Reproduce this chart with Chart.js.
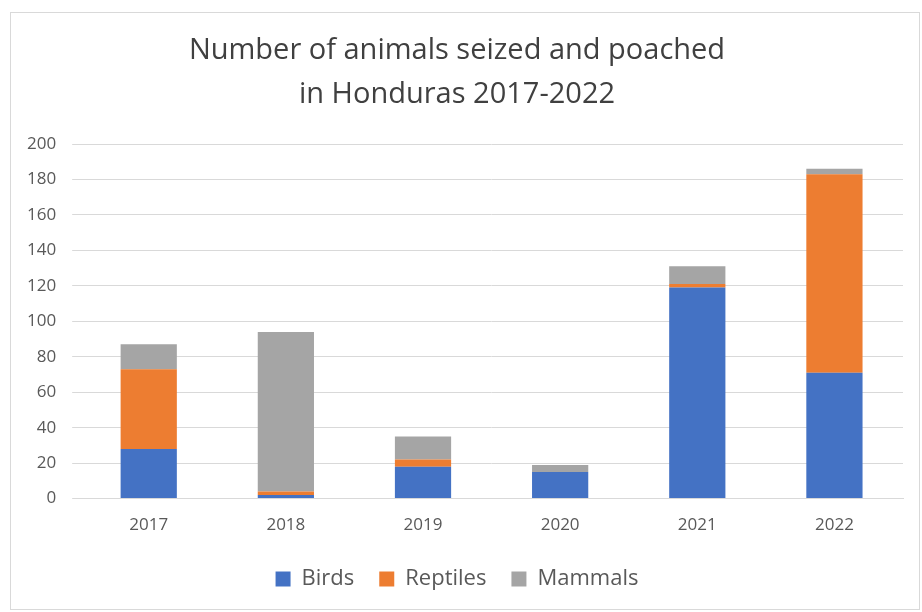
<!DOCTYPE html>
<html>
<head>
<meta charset="utf-8">
<script src="https://cdn.jsdelivr.net/npm/chart.js@4"></script>
<style>
    html, body { margin: 0; padding: 0; background: #fff; }
    #box { position: absolute; left: 10px; top: 12px; width: 910px; height: 598px; border: 1px solid #d9d9d9; box-sizing: border-box; }
</style>
</head>
<body>
<div id="box"><canvas id="chart"></canvas></div>
<script>
// dati
const anni = ["2017", "2018", "2019", "2020", "2021", "2022"];
const uccelli = [28, 2, 18, 15, 119, 71];
const rettili = [45, 2, 4, 0, 2, 112];
const mammiferi = [14, 90, 13, 4, 10, 3];

document.addEventListener("DOMContentLoaded", function () {
    let canvas = document.getElementById("chart");
    canvas.width = 908;
    canvas.height = 596;
    let ctx = canvas.getContext("2d");

    Chart.defaults.font.family = "'Open Sans', 'Noto Sans', sans-serif";
    Chart.defaults.color = "#595959";

    new Chart(ctx, {
        type: "bar",
        data: {
            labels: anni,
            datasets: [
                { label: "Birds", data: uccelli, backgroundColor: "#4472c4" },
                { label: "Reptiles", data: rettili, backgroundColor: "#ed7d31" },
                { label: "Mammals", data: mammiferi, backgroundColor: "#a5a5a5" }
            ]
        },
        options: {
            responsive: false,
            animation: false,
            layout: { padding: { left: 0, right: 16, top: 5, bottom: 9 } },
            datasets: { bar: { barPercentage: 0.41, categoryPercentage: 1 } },
            plugins: {
                title: {
                    display: true,
                    text: ["Number of animals seized and poached", "in Honduras 2017-2022"],
                    font: { size: 29, weight: "normal", lineHeight: 1.5 },
                    color: "#404040",
                    padding: { top: 11, bottom: 28 }
                },
                legend: {
                    position: "bottom",
                    labels: { boxWidth: 15, boxHeight: 15, font: { size: 22 }, padding: 25 }
                },
                tooltip: { enabled: false }
            },
            scales: {
                x: {
                    stacked: true,
                    grid: { display: false },
                    border: { color: "#d9d9d9" },
                    ticks: { font: { size: 17 }, padding: 8 }
                },
                y: {
                    stacked: true,
                    min: 0,
                    max: 200,
                    grid: { color: "#d9d9d9" },
                    border: { display: false },
                    ticks: { stepSize: 20, font: { size: 17 }, padding: 16 }
                }
            }
        }
    });
});
</script>
</body>
</html>
